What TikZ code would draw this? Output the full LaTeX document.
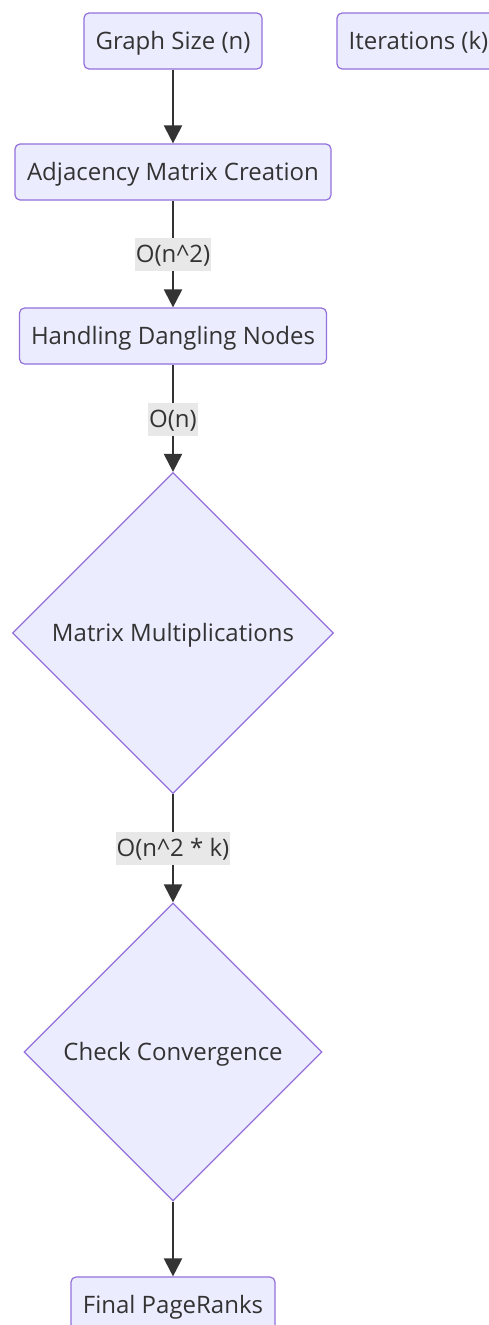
\documentclass[tikz,border=0pt]{standalone}
\usepackage{fontspec}
\setmainfont{Open Sans}
\usetikzlibrary{shapes.geometric,arrows.meta}
\definecolor{nodefill}{HTML}{ECECFF}
\definecolor{nodeline}{HTML}{9370DB}
\definecolor{txt}{HTML}{333333}
\definecolor{lblbg}{HTML}{E8E8E8}
\tikzset{
  basefont/.style={font=\fontsize{24}{28}\selectfont, text height=17pt, text depth=0pt},
  procbox/.style={draw=nodeline, fill=nodefill, line width=1.2pt, rounded corners=5pt,
    minimum height=56pt, inner sep=0pt, text=txt, basefont},
  decision/.style={diamond, aspect=1, draw=nodeline, fill=nodefill, line width=1.2pt,
    inner sep=0pt, text=txt, basefont},
  flow/.style={draw=txt, line width=2.2pt, -{Triangle[length=18pt,width=18pt]}},
  elabel/.style={fill=lblbg, text=txt, inner xsep=1pt, inner ysep=0pt, minimum height=33pt, basefont}
}
\begin{document}
\begin{tikzpicture}[x=1pt,y=-1pt]
\useasboundingbox (0,0) rectangle (489,1325);
\clip (0,0) rectangle (489,1325);
\fill[white] (0,0) rectangle (489,1325);
\node[procbox, minimum width=178pt] (gs) at (173,41) {Graph Size (n)};
\node[procbox, minimum width=163pt] (it) at (418.5,41) {Iterations (k)};
\node[procbox, minimum width=316pt] (am) at (173,172) {Adjacency Matrix Creation};
\node[procbox, minimum width=307pt] (hd) at (173,336) {Handling Dangling Nodes};
\node[decision, minimum width=321pt, minimum height=321pt] (mm) at (173,633) {Matrix Multiplications};
\node[decision, minimum width=298pt, minimum height=298pt] (cc) at (173,1052) {Check Convergence};
\node[procbox, minimum width=204pt] (fp) at (173,1305) {Final PageRanks};
\draw[flow] (gs) -- (am);
\draw[flow] (am) -- node[elabel] {O(n\textasciicircum 2)} (hd);
\draw[flow] (hd) -- node[elabel, pos=0.51] {O(n)} (mm);
\draw[flow] (mm) -- node[elabel] {O(n\textasciicircum 2 * k)} (cc);
\draw[flow] (cc) -- (fp);
\end{tikzpicture}
\end{document}
